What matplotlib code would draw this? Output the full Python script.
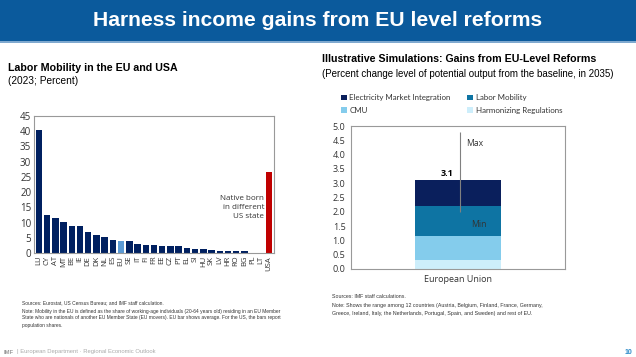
import matplotlib
matplotlib.use('Agg')
import matplotlib.pyplot as plt
from matplotlib.patches import Rectangle

# Left chart: labor mobility (percent)
countries = ['LU', 'CY', 'AT', 'MT', 'BE', 'IE', 'DE', 'DK', 'NL', 'ES', 'EU', 'SE', 'IT', 'FI',
             'FR', 'EE', 'CZ', 'PT', 'EL', 'SI', 'HU', 'SK', 'LV', 'HR', 'RO', 'BG', 'PL', 'LT', 'USA']
mobility = [40.3, 12.4, 11.5, 10.2, 8.9, 8.9, 6.8, 5.9, 5.4, 4.2, 3.9, 3.8, 3.1, 2.6,
            2.6, 2.4, 2.4, 2.2, 1.6, 1.4, 1.2, 1.0, 0.5, 0.5, 0.5, 0.5, 0.1, 0.1, 26.7]

# Right chart: stacked gains (percent)
reform_names = ['Harmonizing Regulations', 'CMU', 'Labor Mobility', 'Electricity Market Integration']
reform_gains = [0.3, 0.85, 1.05, 0.9]
reform_colors = ['#CDEEFB', '#84CCEC', '#0E74A3', '#0A1F5C']
range_min, range_max = 2.0, 4.8

W, H = 636, 357
fig = plt.figure(figsize=(W / 100, H / 100), dpi=100)
fig.patch.set_facecolor('white')

def px(x, y):
    return x / W, 1 - y / H

# header banner
fig.patches.append(Rectangle((0, 1 - 41 / H), 1, 41 / H, transform=fig.transFigure,
                             facecolor='#0B5A9C', edgecolor='none', zorder=0))
fig.patches.append(Rectangle((0, 1 - 43 / H), 1, 2 / H, transform=fig.transFigure,
                             facecolor='#7FA9CF', edgecolor='none', zorder=0))
fig.text(*px(318, 21), 'Harness income gains from EU level reforms', color='white',
         fontsize=15.2, fontweight='bold', family='Liberation Sans', ha='center', va='center')

# subtitles
fig.text(*px(8, 68), 'Labor Mobility in the EU and USA', fontsize=7.7, fontweight='bold',
         family='Liberation Sans', va='center')
fig.text(*px(8, 81), '(2023; Percent)', fontsize=7.3, family='Liberation Sans', va='center')
fig.text(*px(322, 59), 'Illustrative Simulations: Gains from EU-Level Reforms', fontsize=7.7,
         fontweight='bold', family='Liberation Sans', va='center')
fig.text(*px(322, 74), '(Percent change level of potential output from the baseline, in 2035)',
         fontsize=7.0, family='Liberation Sans', va='center')

tick_font = 'Open Sans'

# ---- left chart
ax1 = fig.add_axes([34 / W, 1 - 253 / H, 240 / W, 137 / H])
bar_colors = ['#002060'] * len(countries)
bar_colors[countries.index('EU')] = '#5B9BD5'
bar_colors[countries.index('USA')] = '#C00000'
xs = range(len(countries))
ax1.bar(xs, mobility, width=0.78, color=bar_colors)
ax1.set_xlim(-0.6, len(countries) - 0.4)
ax1.set_ylim(0, 45)
ax1.set_yticks(range(0, 46, 5))
ax1.set_xticks(list(xs))
ax1.set_xticklabels(countries, rotation=90, fontsize=5.5, family=tick_font)
for lab in ax1.get_yticklabels():
    lab.set_fontsize(7)
    lab.set_family(tick_font)
ax1.tick_params(length=0, pad=2, colors='#333333')
for s in ax1.spines.values():
    s.set_color('#999999')
    s.set_linewidth(0.8)
ax1.text(27.4, 15, 'Native born\nin different\nUS state', ha='right', va='center',
         fontsize=5.8, family=tick_font, color='#333333', linespacing=1.45)

# ---- right chart
ax2 = fig.add_axes([351 / W, 1 - 269 / H, 214 / W, 143 / H])
bottom = 0
handles = {}
for name, val, col in zip(reform_names, reform_gains, reform_colors):
    handles[name] = ax2.bar(0, val, bottom=bottom, width=0.8, color=col, label=name)
    bottom += val
ax2.vlines(0.02, range_min, range_max, color='#808080', linewidth=0.8)
ax2.text(-0.1, bottom + 0.08, f'{bottom:.1f}', ha='center', va='bottom', fontsize=6.5,
         fontweight='bold', family=tick_font)
ax2.text(0.08, 4.4, 'Max', fontsize=6.2, family=tick_font, color='#333333', va='center')
ax2.text(0.12, 1.55, 'Min', fontsize=6.2, family=tick_font, color='#333333', va='center')
ax2.set_xlim(-1, 1)
ax2.set_ylim(0, 5)
ax2.set_yticks([i / 2 for i in range(11)])
ax2.set_yticklabels([f'{i / 2:.1f}' for i in range(11)], fontsize=6.5, family=tick_font)
ax2.set_xticks([0])
ax2.set_xticklabels(['European Union'], fontsize=6.5, family=tick_font)
ax2.tick_params(length=0, pad=4, colors='#333333')
for s in ax2.spines.values():
    s.set_color('#999999')
    s.set_linewidth(0.8)

# legend fills column-first, so list it as col1 then col2
order = ['Electricity Market Integration', 'CMU', 'Labor Mobility', 'Harmonizing Regulations']
leg = fig.legend([handles[n] for n in order], order, loc='upper left',
                 bbox_to_anchor=px(338, 91), ncol=2, frameon=False,
                 prop={'family': 'Lato', 'size': 5.7}, handlelength=0.75, handleheight=0.75,
                 handletextpad=0.3, columnspacing=2.1, labelspacing=0.75, borderaxespad=0)
for t in leg.get_texts():
    t.set_color('#333333')

# footnotes
note_kw = dict(family='Liberation Sans', color='#333333', va='center')
fig.text(*px(22, 303), 'Sources: Eurostat, US Census Bureau; and IMF staff calculation.',
         fontsize=3.5, **note_kw)
fig.text(*px(22, 311), 'Note: Mobility in the EU is defined as the share of working-age individuals '
         '(20-64 years old) residing in an EU Member', fontsize=3.5, **note_kw)
fig.text(*px(22, 318), 'State who are nationals of another EU Member State (EU movers). EU bar shows '
         'average. For the US, the bars report', fontsize=3.5, **note_kw)
fig.text(*px(22, 325), 'population shares.', fontsize=3.5, **note_kw)
fig.text(*px(332, 297), 'Sources: IMF staff calculations.', fontsize=3.8, **note_kw)
fig.text(*px(332, 305), 'Note: Shows the range among 12 countries (Austria, Belgium, Finland, '
         'France, Germany,', fontsize=3.8, **note_kw)
fig.text(*px(332, 313), 'Greece, Ireland, Italy, the Netherlands, Portugal, Spain, and Sweden) '
         'and rest of EU.', fontsize=3.8, **note_kw)

# footer
fig.text(*px(4, 352), 'IMF', fontsize=4.2, fontweight='bold', family='Liberation Sans',
         color='#999999', va='center')
fig.text(*px(17, 352), '| European Department \u00b7 Regional Economic Outlook', fontsize=4.2,
         family='Liberation Sans', color='#AAAAAA', va='center')
fig.text(*px(628, 352), '10', fontsize=5, family='Liberation Sans', color='#2E8BC9',
         fontweight='bold', ha='center', va='center')

fig.savefig('out.png', dpi=100)
